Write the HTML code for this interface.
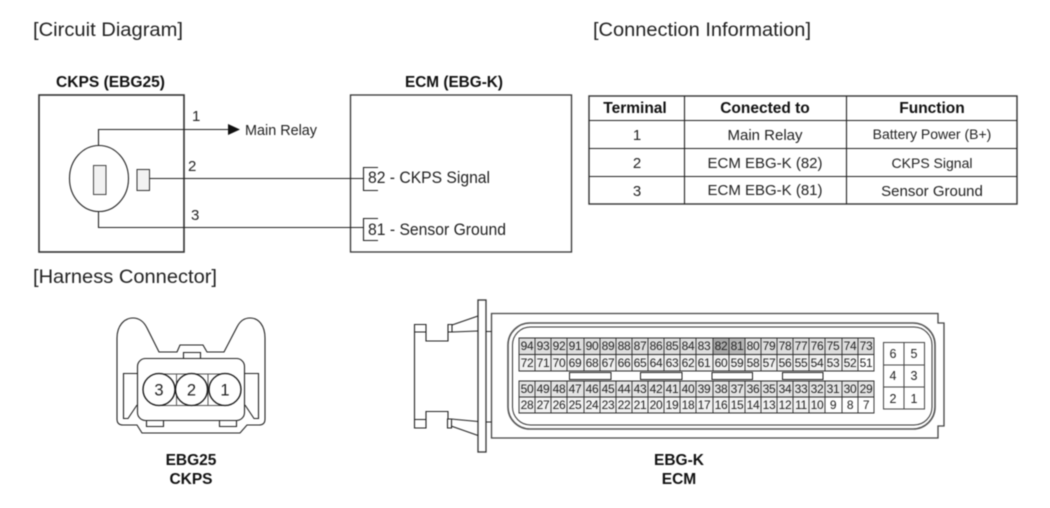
<!DOCTYPE html>
<html><head><meta charset="utf-8"><style>
html,body{margin:0;padding:0;background:#fff;width:1050px;height:508px;overflow:hidden}
svg{display:block;filter:blur(.45px)}
text{font-family:"Liberation Sans",sans-serif;fill:#222}
.t{font-size:19.5px}
.b{font-weight:bold;font-size:15.5px;fill:#111}
.c{font-size:15px;text-anchor:middle}
.h{font-weight:bold;font-size:15.5px;text-anchor:middle;fill:#111}
.n{font-size:12px;text-anchor:middle;letter-spacing:-.3px;fill:#222}
.s{font-size:12.5px;text-anchor:middle;fill:#222}
.l{fill:none;stroke:#222;stroke-width:1.1}
.d{fill:none;stroke:#333;stroke-width:1.6}
</style></head><body>
<svg width="1050" height="508" viewBox="0 0 1050 508" xmlns="http://www.w3.org/2000/svg">
<text class="t" x="33" y="36" textLength="150" lengthAdjust="spacingAndGlyphs">[Circuit Diagram]</text>
<text class="t" x="593" y="36" textLength="218" lengthAdjust="spacingAndGlyphs">[Connection Information]</text>
<text class="t" x="33" y="283" textLength="184" lengthAdjust="spacingAndGlyphs">[Harness Connector]</text>

<!-- Circuit -->
<text class="b" x="56" y="87" textLength="109" lengthAdjust="spacingAndGlyphs">CKPS (EBG25)</text>
<text class="b" x="405" y="87" textLength="98" lengthAdjust="spacingAndGlyphs">ECM (EBG-K)</text>
<rect x="39" y="95" width="145" height="157" class="d"/>
<rect x="350.500" y="95" width="221" height="157" class="d" style="stroke-width:1.300"/>
<path class="l" d="M98.500 145V129.500H230M149 178.500H363M98.500 212V227.500H363"/>
<path d="M228 124l12 5.500-12 5.500z" fill="#111"/>
<ellipse cx="99" cy="178.500" rx="29.500" ry="33" class="l"/>
<rect x="93.500" y="165.500" width="12.500" height="29" fill="#f2f2f2" stroke="#444"/>
<rect x="137" y="169.500" width="12.500" height="21" fill="#f2f2f2" stroke="#333"/>
<path class="l" d="M378 167.500H363.500V190.500H378M378 218.500H363.500V240.500H378"/>
<text x="192" y="121" font-size="15">1</text>
<text x="188" y="171" font-size="15">2</text>
<text x="191" y="220" font-size="15">3</text>
<text x="245" y="135" font-size="14.500" textLength="72" lengthAdjust="spacingAndGlyphs">Main Relay</text>
<text x="368" y="183" font-size="16.500" textLength="122" lengthAdjust="spacingAndGlyphs">82 - CKPS Signal</text>
<text x="368" y="235" font-size="16.500" textLength="138" lengthAdjust="spacingAndGlyphs">81 - Sensor Ground</text>

<!-- Table -->
<rect x="589" y="96" width="428" height="108" fill="none" stroke="#333" stroke-width="1.400"/>
<path class="l" d="M684.500 96V204M846.500 96V204M589 120.500H1017M589 148.500H1017M589 176.500H1017"/>
<text class="h" x="635" y="113">Terminal</text>
<text class="h" x="765" y="113">Conected to</text>
<text class="h" x="932" y="113">Function</text>
<text class="c" x="637" y="140">1</text>
<text class="c" x="765" y="140">Main Relay</text>
<text class="c" x="932" y="139" style="font-size:14px">Battery Power (B+)</text>
<text class="c" x="637" y="168">2</text>
<text class="c" x="765" y="168">ECM EBG-K (82)</text>
<text class="c" x="932" y="168" style="font-size:14px">CKPS Signal</text>
<text class="c" x="637" y="196">3</text>
<text class="c" x="765" y="195">ECM EBG-K (81)</text>
<text class="c" x="932" y="196">Sensor Ground</text>

<!-- CKPS connector -->
<path class="l" d="M117 338C117 326 124 318 133 318C140 318 144 322 147 328L159 352H177L180 345H203L207 352H224L237 327C240 321 244 318 250 318C259 318 265 326 265 338V419Q265 425 259 425H247L240 433H142L137 425H123Q117 425 117 419Z"/>
<rect x="137.500" y="358.500" width="107" height="62" rx="8" class="l"/>
<path class="l" d="M183.500 358V352.500H200.500V358M146.500 420V426.500H163.500V420M219.500 420V426.500H236.500V420"/>
<path class="l" d="M137 373.500H123.500V418.500H128L137 405M245 373.500H258.500V418.500H254L245 405"/>
<path d="M158 374H225M158 405.500H225M176.500 374V405.500M208 374V405.500" fill="none" stroke="#555"/>
<circle cx="159" cy="389.500" r="16" fill="#fff" stroke="#111" stroke-width="1.300"/>
<circle cx="191.500" cy="389.500" r="16" fill="#fff" stroke="#111" stroke-width="1.300"/>
<circle cx="225" cy="389.500" r="16" fill="#fff" stroke="#111" stroke-width="1.300"/>
<text x="159" y="395.500" font-size="16.500" text-anchor="middle">3</text>
<text x="191.500" y="395.500" font-size="16.500" text-anchor="middle">2</text>
<text x="225" y="395.500" font-size="16.500" text-anchor="middle">1</text>
<text class="h" x="191" y="465" style="font-size:15.500px">EBG25</text>
<text class="h" x="191" y="484" style="font-size:15.500px">CKPS</text>
<text class="h" x="679" y="465" style="font-size:15.500px">EBG-K</text>
<text class="h" x="679" y="484" style="font-size:15.500px">ECM</text>

<!-- ECM connector -->
<rect x="478" y="300" width="8" height="152" fill="#fff" stroke="#333" stroke-width="1.300"/>
<path d="M491.500 313.500H938V323H944V426H938V438H491.500Z" fill="#fff" stroke="#444" stroke-width="1.300"/>
<path class="l" d="M414.500 324.500H426V332H414.500ZM414.500 332V419.500M426 332V341H448V332M448 324.500H452V332H448ZM452 325L478 316M452 332L478 331M486 331.500H491.500"/>
<path class="l" d="M414.500 419.500H426V428H414.500ZM426 419.500V411.500H448V419M447.500 419H451.500V428H447.500ZM451 419L478 421.500M451 426L478 435.500M486 422H491.500"/>
<rect x="508" y="323" width="427" height="106" rx="22" fill="none" stroke="#555" stroke-width="1.600"/>
<rect x="512.500" y="327" width="419.500" height="98" rx="18" fill="none" stroke="#333"/>

<!-- Pin shading -->
<rect x="519" y="338" width="355" height="16" fill="#dedede"/>
<rect x="519" y="354" width="355" height="17" fill="#f0f0f0"/>
<rect x="519" y="381" width="355" height="16" fill="#e4e4e4"/>
<rect x="519" y="397" width="355" height="16" fill="#f2f2f2"/>
<rect x="713" y="338" width="16" height="16" fill="#a8a8a8"/>
<rect x="729" y="338" width="16" height="16" fill="#b4b4b4"/>
<rect x="858" y="354" width="16" height="17" fill="#fff"/>
<rect x="825" y="397" width="49" height="16" fill="#fff"/>
<path fill="none" stroke="#2a2a2a" stroke-width=".9" d="M519 338H874V371H519ZM519 354.500H874M519 381H874V413H519ZM519 397H874
M535 338V371M551 338V371M567 338V371M584 338V371M600 338V371M616 338V371M632 338V371M648 338V371M664 338V371M680 338V371M696 338V371M713 338V371M729 338V371M745 338V371M761 338V371M777 338V371M793 338V371M809 338V371M825 338V371M842 338V371M858 338V371
M535 381V413M551 381V413M567 381V413M584 381V413M600 381V413M616 381V413M632 381V413M648 381V413M664 381V413M680 381V413M696 381V413M713 381V413M729 381V413M745 381V413M761 381V413M777 381V413M793 381V413M809 381V413M825 381V413M842 381V413M858 381V413"/>
<g fill="#fff" stroke="#222"><rect x="569.500" y="372.500" width="41.500" height="7"/><rect x="640.500" y="372.500" width="41.500" height="7"/><rect x="712" y="372.500" width="40.500" height="7"/><rect x="782.500" y="372.500" width="40.500" height="7"/></g>

<g class="pins">
<text class="n" x="527" y="350">94</text><text class="n" x="543" y="350">93</text><text class="n" x="559" y="350">92</text><text class="n" x="575" y="350">91</text><text class="n" x="592" y="350">90</text><text class="n" x="608" y="350">89</text><text class="n" x="624" y="350">88</text><text class="n" x="640" y="350">87</text><text class="n" x="656" y="350">86</text><text class="n" x="672" y="350">85</text><text class="n" x="688" y="350">84</text><text class="n" x="704" y="350">83</text><text class="n" x="721" y="350">82</text><text class="n" x="737" y="350">81</text><text class="n" x="753" y="350">80</text><text class="n" x="769" y="350">79</text><text class="n" x="785" y="350">78</text><text class="n" x="801" y="350">77</text><text class="n" x="817" y="350">76</text><text class="n" x="833" y="350">75</text><text class="n" x="850" y="350">74</text><text class="n" x="866" y="350">73</text>
<text class="n" x="527" y="367">72</text><text class="n" x="543" y="367">71</text><text class="n" x="559" y="367">70</text><text class="n" x="575" y="367">69</text><text class="n" x="592" y="367">68</text><text class="n" x="608" y="367">67</text><text class="n" x="624" y="367">66</text><text class="n" x="640" y="367">65</text><text class="n" x="656" y="367">64</text><text class="n" x="672" y="367">63</text><text class="n" x="688" y="367">62</text><text class="n" x="704" y="367">61</text><text class="n" x="721" y="367">60</text><text class="n" x="737" y="367">59</text><text class="n" x="753" y="367">58</text><text class="n" x="769" y="367">57</text><text class="n" x="785" y="367">56</text><text class="n" x="801" y="367">55</text><text class="n" x="817" y="367">54</text><text class="n" x="833" y="367">53</text><text class="n" x="850" y="367">52</text><text class="n" x="866" y="367">51</text>
<text class="n" x="527" y="393">50</text><text class="n" x="543" y="393">49</text><text class="n" x="559" y="393">48</text><text class="n" x="575" y="393">47</text><text class="n" x="592" y="393">46</text><text class="n" x="608" y="393">45</text><text class="n" x="624" y="393">44</text><text class="n" x="640" y="393">43</text><text class="n" x="656" y="393">42</text><text class="n" x="672" y="393">41</text><text class="n" x="688" y="393">40</text><text class="n" x="704" y="393">39</text><text class="n" x="721" y="393">38</text><text class="n" x="737" y="393">37</text><text class="n" x="753" y="393">36</text><text class="n" x="769" y="393">35</text><text class="n" x="785" y="393">34</text><text class="n" x="801" y="393">33</text><text class="n" x="817" y="393">32</text><text class="n" x="833" y="393">31</text><text class="n" x="850" y="393">30</text><text class="n" x="866" y="393">29</text>
<text class="n" x="527" y="409">28</text><text class="n" x="543" y="409">27</text><text class="n" x="559" y="409">26</text><text class="n" x="575" y="409">25</text><text class="n" x="592" y="409">24</text><text class="n" x="608" y="409">23</text><text class="n" x="624" y="409">22</text><text class="n" x="640" y="409">21</text><text class="n" x="656" y="409">20</text><text class="n" x="672" y="409">19</text><text class="n" x="688" y="409">18</text><text class="n" x="704" y="409">17</text><text class="n" x="721" y="409">16</text><text class="n" x="737" y="409">15</text><text class="n" x="753" y="409">14</text><text class="n" x="769" y="409">13</text><text class="n" x="785" y="409">12</text><text class="n" x="801" y="409">11</text><text class="n" x="817" y="409">10</text><text class="n" x="833" y="409">9</text><text class="n" x="850" y="409">8</text><text class="n" x="866" y="409">7</text>
</g>

<rect x="883.500" y="342.500" width="41" height="66.500" fill="#fff" stroke="#444"/>
<path fill="none" stroke="#444" d="M904 342.500V409M883.500 365H924.500M883.500 387H924.500"/>
<text class="s" x="893" y="358">6</text><text class="s" x="914" y="358">5</text>
<text class="s" x="893" y="380">4</text><text class="s" x="914" y="380">3</text>
<text class="s" x="893" y="403">2</text><text class="s" x="914" y="403">1</text>
</svg>
</body></html>
